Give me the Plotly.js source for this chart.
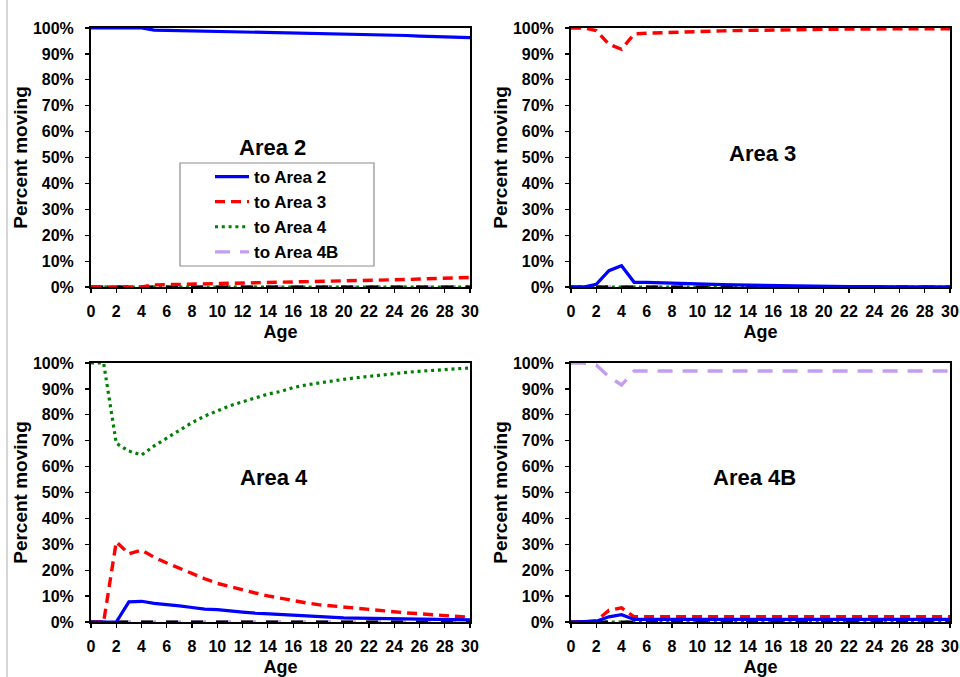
<!DOCTYPE html>
<html>
<head>
<meta charset="utf-8">
<script src="https://cdn.plot.ly/plotly-3.0.1.min.js"></script>
<style>html,body{margin:0;padding:0;background:#fff;}#chart{width:960px;height:677px;}</style>
</head>
<body>
<div id="chart"></div>
<script>
// ---------- data ----------
const ages = [0,1,2,3,4,5,6,7,8,9,10,11,12,13,14,15,16,17,18,19,20,21,22,23,24,25,26,27,28,29,30];
const seriesNames = ["to Area 2", "to Area 3", "to Area 4", "to Area 4B"];
const panelTitles = ["Area 2", "Area 3", "Area 4", "Area 4B"];
const xTickVals = [0,2,4,6,8,10,12,14,16,18,20,22,24,26,28,30];
const yTickVals = [0,10,20,30,40,50,60,70,80,90,100];
const yTickText = ["0%","10%","20%","30%","40%","50%","60%","70%","80%","90%","100%"];

const zeroLine = [0,0,0,0,0,0,0,0,0,0,0,0,0,0,0,0,0,0,0,0,0,0,0,0,0,0,0,0,0,0,0];

// Area 2 panel
const a2_to2  = [100,100,100,100,100,99.2,99.1,99.1,99,99,98.9,98.8,98.7,98.6,98.5,98.4,98.3,98.2,98.1,97.9,97.8,97.7,97.6,97.5,97.3,97.1,96.9,96.8,96.6,96.5,96.3];
const a2_to3  = [0,0,0,0,0,0.8,0.9,0.9,1,1,1.1,1.2,1.3,1.4,1.5,1.6,1.7,1.8,1.9,2.1,2.2,2.3,2.4,2.5,2.7,2.9,3.1,3.2,3.4,3.5,3.7];
const a2_to4  = zeroLine;
const a2_to4B = zeroLine;

// Area 3 panel
const a3_to2  = [0,0,1,6.3,8.2,1.8,1.8,1.6,1.4,1.2,1.1,1,0.9,0.8,0.7,0.6,0.5,0.4,0.4,0.3,0.3,0.2,0.2,0.2,0.1,0.1,0.1,0.1,0.1,0.1,0.1];
const a3_to3  = [100,100,99,93.7,91.8,97.7,98,98.2,98.4,98.6,98.7,98.8,98.9,99,99.1,99.2,99.3,99.4,99.4,99.5,99.5,99.6,99.6,99.6,99.7,99.7,99.7,99.7,99.7,99.7,99.7];
const a3_to4  = zeroLine;
const a3_to4B = zeroLine;

// Area 4 panel
const a4_to2  = [0,0,0,7.8,8,7.2,6.8,6.2,5.6,5,4.8,4.2,3.8,3.4,3.1,2.8,2.6,2.3,2,1.8,1.6,1.5,1.4,1.3,1.2,1.1,1,0.9,0.8,0.7,0.8];
const a4_to3  = [0,0,31,26.3,27.8,25,22.8,20.7,18.7,16.7,14.9,13.6,12.4,11.2,10.1,9.1,8.2,7.4,6.7,6.2,5.7,5.2,4.7,4.3,3.9,3.5,3.2,2.9,2.6,2.2,1.8];
const a4_to4  = [100,100,69,66,64.5,68,71,74,77,79.5,81.5,83.5,85,86.5,88,89,90.5,91.5,92.3,93,93.7,94.3,94.9,95.4,95.9,96.4,96.8,97.2,97.5,97.8,98.1];
const a4_to4B = zeroLine;

// Area 4B panel
const a4b_to2  = [0,0,0.3,2,2.8,1,1,1,1,1,1,1,1,1,1,1,1,1,1,1,1,1,1,1,1,1,1,1,1,1,1];
const a4b_to3  = [0,0,0.5,4.5,5.5,2,2,2,2,2,2,2,2,2,2,2,2,2,2,2,2,2,2,2,2,2,2,2,2,2,2];
const a4b_to4  = zeroLine;
const a4b_to4B = [100,100,99.2,94.7,91.5,96.9,96.9,96.9,96.9,96.9,96.9,96.9,96.9,96.9,96.9,96.9,96.9,96.9,96.9,96.9,96.9,96.9,96.9,96.9,96.9,96.9,96.9,96.9,96.9,96.9,96.9];

const panels = [
  [a2_to2, a2_to3, a2_to4, a2_to4B],
  [a3_to2, a3_to3, a3_to4, a3_to4B],
  [a4_to2, a4_to3, a4_to4, a4_to4B],
  [a4b_to2, a4b_to3, a4b_to4, a4b_to4B]
];

// ---------- styles ----------
const styles = [
  {color: "#0000ff", dash: "solid", width: 3.2},
  {color: "#ff0000", dash: "10px,6px", width: 3.4},
  {color: "#008000", dash: "3px,3.8px", width: 3.2},
  {color: "#c49df2", dash: "15px,10px", width: 3.4}
];

const W = 960, H = 677;
const xDomPx = [[91, 470], [571, 950], [91, 470], [571, 950]];
const yDomPx = [[28, 287], [28, 287], [363, 622], [363, 622]];
const titlePos = [[0.48, 0.54], [0.504, 0.517], [0.483, 0.556], [0.483, 0.556]];

const FONT = "Liberation Sans, Arial, sans-serif";
const traces = [];
const layout = {
  width: W, height: H,
  margin: {l: 0, r: 0, t: 0, b: 0},
  paper_bgcolor: "#ffffff",
  plot_bgcolor: "#ffffff",
  font: {family: FONT, color: "#000"},
  showlegend: true,
  legend: {
    x: 210 / W, y: 1 - 159 / H, xanchor: "left", yanchor: "top",
    bgcolor: "rgba(0,0,0,0)", borderwidth: 0,
    font: {family: FONT, size: 17, color: "#000", weight: "bold"},
    itemwidth: 34, tracegroupgap: 0
  },
  annotations: [],
  shapes: [
    {type: "line", xref: "paper", yref: "paper", x0: 7 / W, x1: 7 / W, y0: 0, y1: 1, line: {color: "#c8c8c8", width: 1.5}},
    {type: "rect", xref: "paper", yref: "paper", x0: 180 / W, x1: 374 / W, y0: 1 - 266 / H, y1: 1 - 163 / H, line: {color: "#8c8c8c", width: 1.2}, fillcolor: "rgba(0,0,0,0)", layer: "below"}
  ]
};

function addSeries(p, s, xa, ya) {
  traces.push({
    x: ages, y: panels[p][s], xaxis: xa, yaxis: ya, mode: "lines",
    name: seriesNames[s], legendrank: s + 1, showlegend: p === 0,
    line: {color: styles[s].color, dash: styles[s].dash, width: styles[s].width}
  });
}

for (let p = 0; p < 4; p++) {
  const sfx = p === 0 ? "" : String(p + 1);
  const xa = "x" + sfx, ya = "y" + sfx;
  addSeries(p, 3, xa, ya);
  addSeries(p, 2, xa, ya);
  traces.push({
    x: ages, y: zeroLine, xaxis: xa, yaxis: ya, mode: "lines", showlegend: false,
    line: {color: "#000", dash: "12px,13px", width: 3}, hoverinfo: "skip"
  });
  addSeries(p, 1, xa, ya);
  addSeries(p, 0, xa, ya);
  const axBase = {
    showline: true, linecolor: "#000", linewidth: 2, mirror: true,
    showgrid: false, zeroline: false, ticks: "outside", ticklen: 4, tickwidth: 1.2, tickcolor: "#000",
    tickfont: {family: FONT, size: 16, color: "#000", weight: "bold"},
    automargin: false, fixedrange: true, layer: "below traces"
  };
  layout["xaxis" + sfx] = Object.assign({}, axBase, {
    domain: [xDomPx[p][0] / W, xDomPx[p][1] / W],
    anchor: ya, range: [0, 30], tickmode: "array", tickvals: xTickVals,
    ticklabelstandoff: 5,
    title: {text: "Age", font: {family: FONT, size: 18, color: "#000", weight: "bold"}, standoff: 6}
  });
  layout["yaxis" + sfx] = Object.assign({}, axBase, {
    domain: [1 - yDomPx[p][1] / H, 1 - yDomPx[p][0] / H],
    anchor: xa, range: [0, 100], tickmode: "array", tickvals: yTickVals, ticktext: yTickText,
    ticklabelstandoff: 8,
    title: {text: "Percent moving", font: {family: FONT, size: 19, color: "#000", weight: "bold"}, standoff: 0}
  });
  layout.annotations.push({
    xref: xa + " domain", yref: ya + " domain", x: titlePos[p][0], y: titlePos[p][1],
    text: panelTitles[p], showarrow: false, xanchor: "center", yanchor: "middle",
    font: {family: FONT, size: 22, color: "#000", weight: "bold"}
  });
}

Plotly.newPlot("chart", traces, layout, {staticPlot: true, displayModeBar: false});
</script>
</body>
</html>
